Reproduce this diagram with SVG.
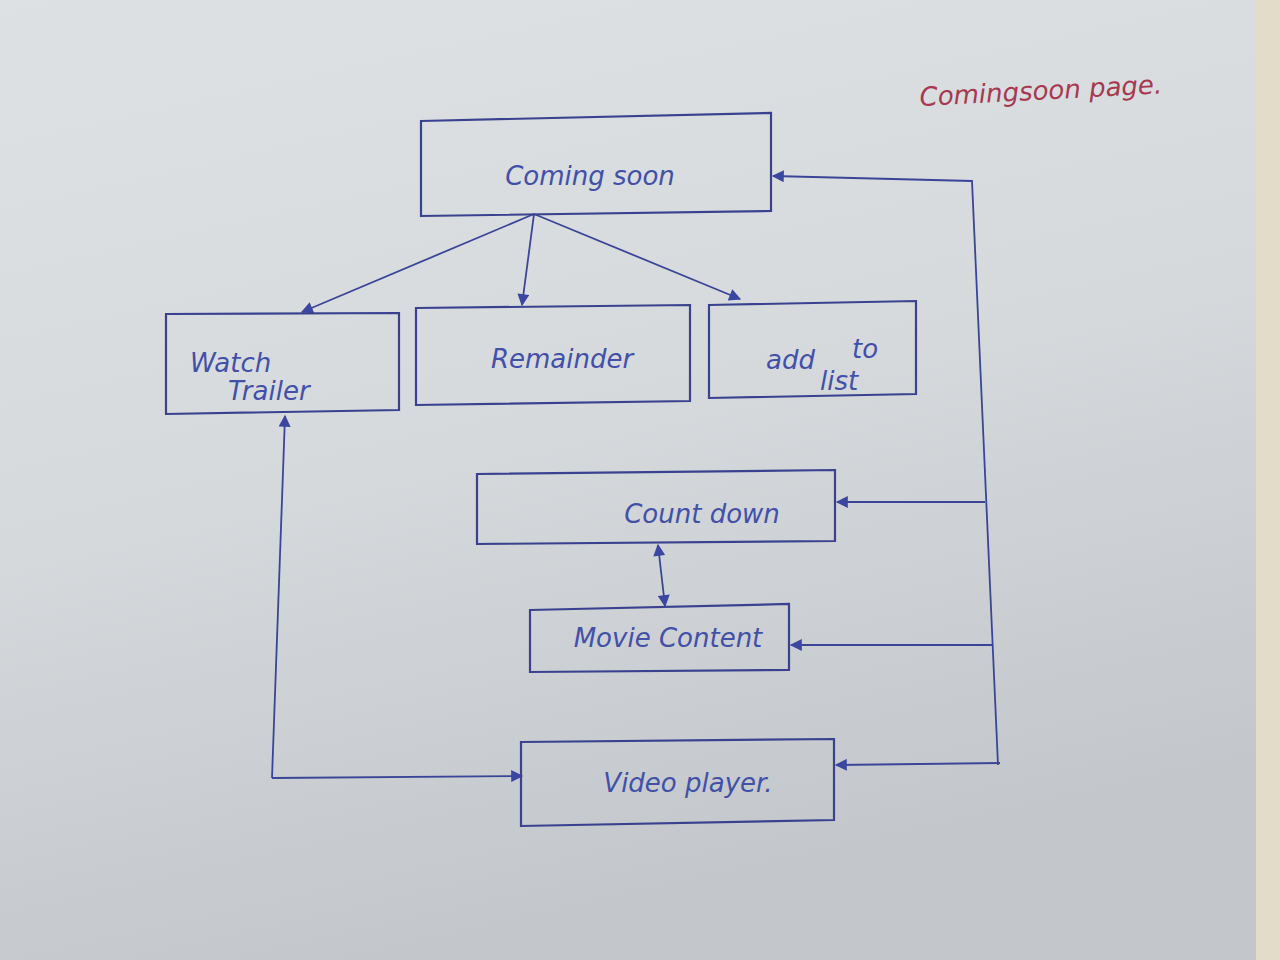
<svg xmlns="http://www.w3.org/2000/svg" width="1280" height="960" viewBox="0 0 1280 960">
<defs>
<linearGradient id="paper" x1="0" y1="0" x2="0.3" y2="1">
<stop offset="0" stop-color="#dde1e3"/>
<stop offset="0.5" stop-color="#d6dadd"/>
<stop offset="1" stop-color="#c3c7cb"/>
</linearGradient>
<marker id="ah" viewBox="0 0 10 10" refX="9" refY="5" markerWidth="14" markerHeight="12" orient="auto-start-reverse" markerUnits="userSpaceOnUse">
<path d="M0,0 L10,5 L0,10 z" fill="#3a46a0"/>
</marker>
<style>
.box{fill:none;stroke:#3a4290;stroke-width:2.2}
.ln{fill:none;stroke:#3a4598;stroke-width:1.8}
.t{font-family:"DejaVu Sans","Liberation Sans",sans-serif;font-size:26px;fill:#4250a8;font-style:italic}
</style>
</defs>
<rect width="1280" height="960" fill="url(#paper)"/>
<rect x="1256" y="0" width="24" height="960" fill="#e2dcc8"/>
<text x="920" y="106" font-family="DejaVu Sans, sans-serif" font-size="26" font-style="italic" fill="#a8384f" transform="rotate(-3 920 106)">Comingsoon page.</text>

<g id="connectors">
<line class="ln" x1="534" y1="214" x2="302" y2="312" marker-end="url(#ah)"/>
<line class="ln" x1="534" y1="214" x2="522" y2="305" marker-end="url(#ah)"/>
<line class="ln" x1="534" y1="214" x2="740" y2="299" marker-end="url(#ah)"/>
<polyline class="ln" points="998,765 972,181 773,176" marker-end="url(#ah)"/>
<line class="ln" x1="985" y1="502" x2="837" y2="502" marker-end="url(#ah)"/>
<line class="ln" x1="992" y1="645" x2="791" y2="645" marker-end="url(#ah)"/>
<line class="ln" x1="1000" y1="763" x2="836" y2="765" marker-end="url(#ah)"/>
<polyline class="ln" points="272,778 285,416" marker-end="url(#ah)"/>
<line class="ln" x1="272" y1="778" x2="522" y2="776" marker-end="url(#ah)"/>
<line class="ln" x1="658" y1="545" x2="665" y2="606" marker-start="url(#ah)" marker-end="url(#ah)"/>
</g>

<g id="coming-soon">
<polygon class="box" points="421,121 771,113 771,211 421,216"/>
<text class="t" x="590" y="185" text-anchor="middle">Coming soon</text>
</g>
<g id="watch-trailer">
<polygon class="box" points="166,314 399,313 399,410 166,414"/>
<text class="t" x="190" y="372">Watch</text>
<text class="t" x="228" y="400">Trailer</text>
</g>
<g id="remainder">
<polygon class="box" points="416,308 690,305 690,401 416,405"/>
<text class="t" x="562" y="368" text-anchor="middle">Remainder</text>
</g>
<g id="add-to-list">
<polygon class="box" points="709,305 916,301 916,394 709,398"/>
<text class="t" x="766" y="369">add</text>
<text class="t" x="852" y="358">to</text>
<text class="t" x="820" y="390">list</text>
</g>
<g id="count-down">
<polygon class="box" points="477,474 835,470 835,541 477,544"/>
<text class="t" x="702" y="523" text-anchor="middle">Count down</text>
</g>
<g id="movie-content">
<polygon class="box" points="530,610 789,604 789,670 530,672"/>
<text class="t" x="668" y="647" text-anchor="middle">Movie Content</text>
</g>
<g id="video-player">
<polygon class="box" points="521,742 834,739 834,820 521,826"/>
<text class="t" x="688" y="792" text-anchor="middle">Video player.</text>
</g>
</svg>
